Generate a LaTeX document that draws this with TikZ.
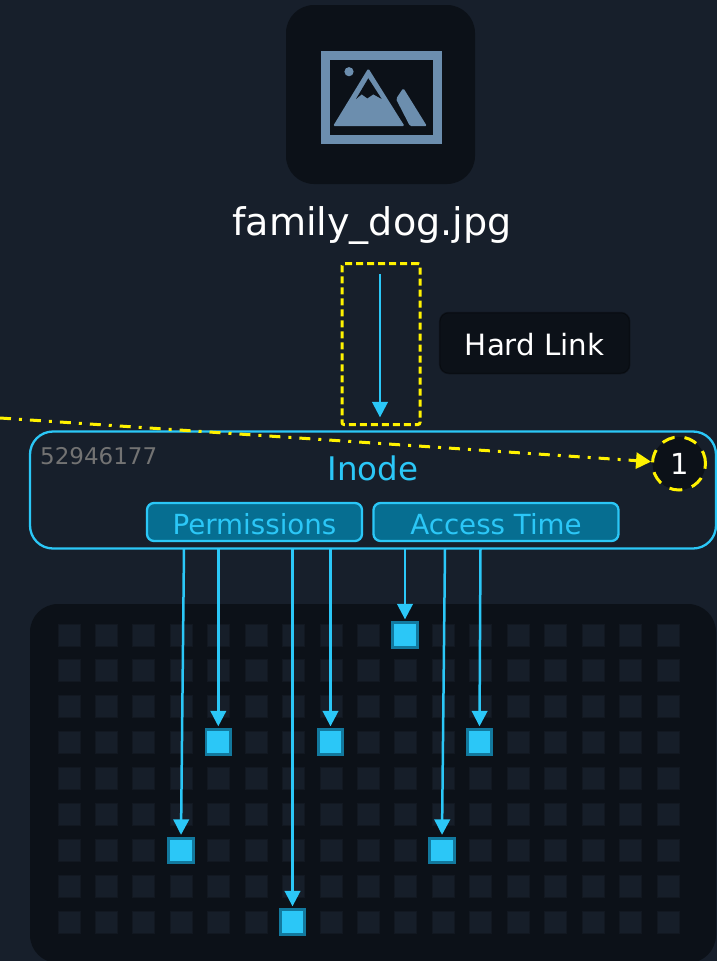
\documentclass[tikz,border=0pt]{standalone}
\usepackage{fontspec}
\setmainfont{DejaVu Sans}
\usetikzlibrary{arrows.meta,calc}
\definecolor{bg}{HTML}{171F2B}
\definecolor{dark}{HTML}{0C1118}
\definecolor{cellc}{HTML}{161E29}
\definecolor{celle}{HTML}{121821}
\definecolor{cyanb}{HTML}{2BC7F7}
\definecolor{cyand}{HTML}{066E91}
\definecolor{hlborder}{HTML}{12799E}
\definecolor{steel}{HTML}{6C8EAE}
\definecolor{yel}{HTML}{FFF200}
\newcommand{\fs}[1]{\fontsize{#1}{#1}\selectfont}
\newcommand{\lowered}[2]{\raisebox{0pt}[\dimexpr\height+#1\relax]{#2}}
\tikzset{
  flow/.style={draw=cyanb,line width=2.5pt,-{Triangle[length=15.5pt,width=15.5pt]},shorten >=2pt},
  cellbox/.style={draw=celle,fill=cellc,line width=1pt,minimum size=22pt,inner sep=0pt},
  hlbox/.style={draw=hlborder,fill=cyanb,line width=2.8pt,minimum size=24.5pt,inner sep=0pt},
  pill/.style={draw=cyanb,fill=cyand,line width=2.3pt,rounded corners=7pt,inner sep=0pt,text=cyanb,font=\fs{27.7}},
  yellowdash/.style={draw=yel,line width=3pt,dash pattern=on 7pt off 4pt}
}
\begin{document}
\begin{tikzpicture}[x=1pt,y=-1pt]
\clip (0,0) rectangle (717,961);
\fill[bg] (0,0) rectangle (717,961);
% file icon
\node[fill=dark,rounded corners=28pt,minimum width=189pt,minimum height=179pt,inner sep=0pt] (iconbox) at (380.5,94.5) {};
\draw[steel,line width=9pt] (325,55) rectangle (437,139.5);
\fill[steel] (349,71.7) circle (4.6);
\fill[steel,rounded corners=1.5pt] (368.3,68.3) -- (404.6,126.2) -- (333,126.2) -- cycle;
\fill[dark] (368.3,78.3) -- (381.7,99) -- (373.3,94.3) -- (367.3,98.3) -- (361.7,94.3) -- (356,99) -- cycle;
\fill[steel,rounded corners=1.5pt] (403.3,88) -- (427,126.2) -- (410,126.2) -- (396,99) -- cycle;
% file name
\node[text=white,font=\fs{38.1},minimum height=40pt,inner sep=0pt] (file) at (372,226) {family\_dog.jpg};
% hard link
\node[draw=black,draw opacity=.35,fill=dark,rounded corners=9pt,minimum width=190pt,minimum height=61pt,inner sep=0pt,text=white,font=\fs{29.3},line width=1.5pt] (hard) at (534.7,343) {\lowered{3pt}{Hard Link}};
% inode
\node[draw=cyanb,line width=2.3pt,rounded corners=23pt,minimum width=686pt,minimum height=117pt,inner sep=0pt] (inode) at (373,490) {};
\node[text=cyanb,font=\fs{32.5},inner sep=0pt] (inodelabel) at (373,468) {Inode};
\node[text=black!55!white,font=\fs{23},inner sep=0pt,anchor=west] (inodeid) at (40,456.5) {52946177};
\node[pill,minimum width=215pt,minimum height=38pt] (perm) at (254.5,522) {\lowered{4pt}{Permissions}};
\node[pill,minimum width=245pt,minimum height=38pt] (access) at (496,522) {\lowered{4pt}{Access Time}};
% link count
\node[circle,fill=dark,draw=yel,line width=3pt,dash pattern=on 13pt off 10pt,minimum size=53pt,inner sep=0pt,text=white,font=\fs{29}] (count) at (679,463.5) {\hspace{1pt}1};
% dashed highlight around hard link
\node[yellowdash,rounded corners=2pt,minimum width=78pt,minimum height=161pt,inner sep=0pt] (hlrect) at (381,344) {};
% block panel
\node[fill=dark,rounded corners=28pt,minimum width=686pt,minimum height=359pt,inner sep=0pt] (panel) at (373,783.5) {};
\foreach \r in {0,...,8}{
  \foreach \c in {0,...,16}{
    \node[cellbox] (cell-\c-\r) at ({69+37.44*\c},{635+35.9*\r}) {};
  }
}
\node[hlbox] (b1) at (405,635) {};
\node[hlbox] (b2) at (218.3,742) {};
\node[hlbox] (b3) at (330.5,742) {};
\node[hlbox] (b4) at (479.5,742) {};
\node[hlbox] (b5) at (181,850.5) {};
\node[hlbox] (b6) at (442,850.5) {};
\node[hlbox] (b7) at (292.5,922) {};
% connector start points
\coordinate (hlx) at (380,300);
\coordinate (s5) at (184,549);
\coordinate (s2) at (218.3,549);
\coordinate (s7) at (292.5,549);
\coordinate (s3) at (330.5,549);
\coordinate (s1) at (405,549);
\coordinate (s6) at (445,549);
\coordinate (s4) at (480.5,549);
\coordinate (far) at (0,418);
% connectors
\draw[flow,shorten <=28pt,shorten >=13pt] (file.south -| hlx) -- (inode.north -| hlx);
\draw[flow] (s5) -- (b5.north);
\draw[flow] (s2) -- (b2.north);
\draw[flow] (s7) -- (b7.north);
\draw[flow] (s3) -- (b3.north);
\draw[flow] (s1) -- (b1.north);
\draw[flow] (s6) -- (b6.north);
\draw[flow] (s4) -- (b4.north);
\draw[draw=yel,line width=3pt,dash pattern=on 11pt off 8pt on 3pt off 8pt,-{Triangle[length=15pt,width=16pt,fill=yel]}] (far) -- (count);
\end{tikzpicture}
\end{document}
